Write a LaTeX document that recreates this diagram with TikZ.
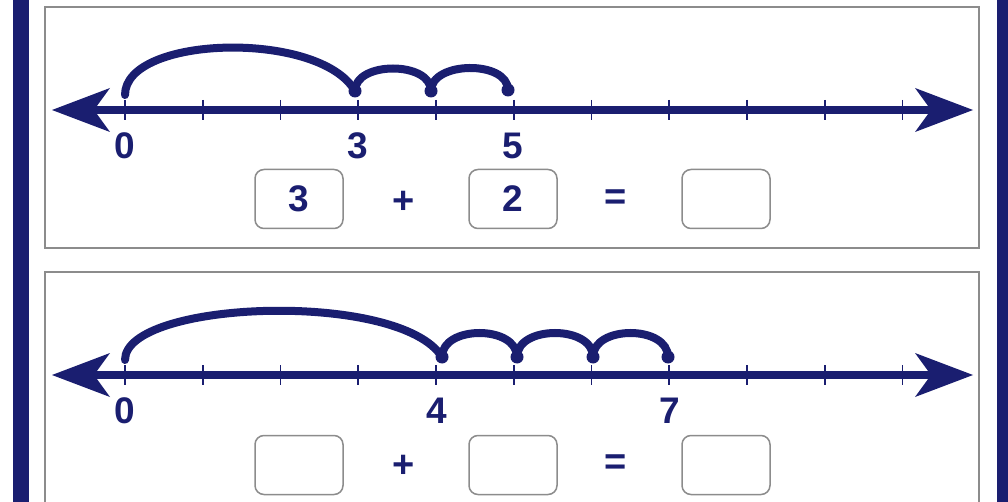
\documentclass[tikz,border=0pt]{standalone}
\usepackage{fontspec}
\setmainfont{Liberation Sans}
\usetikzlibrary{arrows.meta}
\definecolor{navy}{RGB}{26,30,112}
\definecolor{framegray}{RGB}{140,140,140}
\begin{document}
\begin{tikzpicture}[x=1pt,y=-1pt,
  numline/.style={navy, line width=7.5pt,
    {Stealth[length=58pt,width=44pt,inset=16pt,line width=0pt]}-{Stealth[length=58pt,width=44pt,inset=16pt,line width=0pt]}},
  tickmark/.style={navy, line width=1.6pt},
  jump/.style={navy, line width=8pt, line cap=round},
  dot/.style={circle, fill=navy, inner sep=0pt, minimum size=13pt},
  lbl/.style={text=navy, font=\fontsize{37}{40}\selectfont\bfseries, inner sep=0pt},
  op/.style={text=navy, font=\fontsize{38}{40}\selectfont\bfseries, inner sep=0pt},
  ansbox/.style={draw=framegray, line width=1.5pt, rounded corners=9pt,
    minimum width=88pt, minimum height=59pt, inner sep=0pt, text=navy,
    font=\fontsize{37}{40}\selectfont\bfseries},
  panel/.style={draw=framegray, line width=1.6pt},
  sidebar/.style={fill=navy}
]
\clip (0,0) rectangle (1008,502);
\fill[white] (0,0) rectangle (1008,502);
% side bars
\fill[sidebar] (13,0) rectangle (29,502);
\fill[sidebar] (997,0) rectangle (1008,502);
% panels
\draw[panel] (45,7) rectangle (979,248);
\draw[panel] (45,272) rectangle (979,530);

% ---------- panel 1 ----------
\coordinate (L1) at (52,110);
\coordinate (R1) at (973,110);
\draw[numline] (L1) -- (R1);
\foreach \k in {0,...,10} {
  \draw[tickmark] ({125+77.75*\k},100) -- ({125+77.75*\k},120);
}
\node[lbl] (n10) at (125,146) {0};
\node[lbl] (n13) at (358,146) {3};
\node[lbl] (n15) at (513,146) {5};

\coordinate (s0) at (125,95);
\node[dot] (d3) at (355,91) {};
\node[dot] (d4) at (431,91) {};
\node[dot] (d5) at (508,90) {};
\draw[jump] (s0) .. controls +(0,-60) and +(-35,-61) .. (d3.center);
\draw[jump] (d3.center) .. controls +(0,-30) and +(0,-30) .. (d4.center);
\draw[jump] (d4.center) .. controls +(0,-30) and +(0,-30) .. (d5.center);

\node[ansbox] (b11) at (299,199) {3};
\node[op] (plus1) at (404,202) {+};
\node[ansbox] (b12) at (513,199) {2};
\node[op] (eq1) at (616,200) {=};
\node[ansbox] (b13) at (726,199) {};

% ---------- panel 2 ----------
\coordinate (L2) at (52,375);
\coordinate (R2) at (973,375);
\draw[numline] (L2) -- (R2);
\foreach \k in {0,...,10} {
  \draw[tickmark] ({125+77.75*\k},365) -- ({125+77.75*\k},385);
}
\node[lbl] (n20) at (125,411) {0};
\node[lbl] (n24) at (437,411) {4};
\node[lbl] (n27) at (670,411) {7};

\coordinate (t0) at (125,360);
\node[dot] (e4) at (442,357) {};
\node[dot] (e5) at (517,357) {};
\node[dot] (e6) at (593,357) {};
\node[dot] (e7) at (668,357) {};
\draw[jump] (t0) .. controls +(0,-60) and +(-42,-67) .. (e4.center);
\draw[jump] (e4.center) .. controls +(0,-32) and +(0,-32) .. (e5.center);
\draw[jump] (e5.center) .. controls +(0,-32) and +(0,-32) .. (e6.center);
\draw[jump] (e6.center) .. controls +(0,-32) and +(0,-32) .. (e7.center);

\node[ansbox] (b21) at (299,465) {};
\node[op] (plus2) at (404,466) {+};
\node[ansbox] (b22) at (513,465) {};
\node[op] (eq2) at (616,465) {=};
\node[ansbox] (b23) at (726,465) {};
\end{tikzpicture}
\end{document}
